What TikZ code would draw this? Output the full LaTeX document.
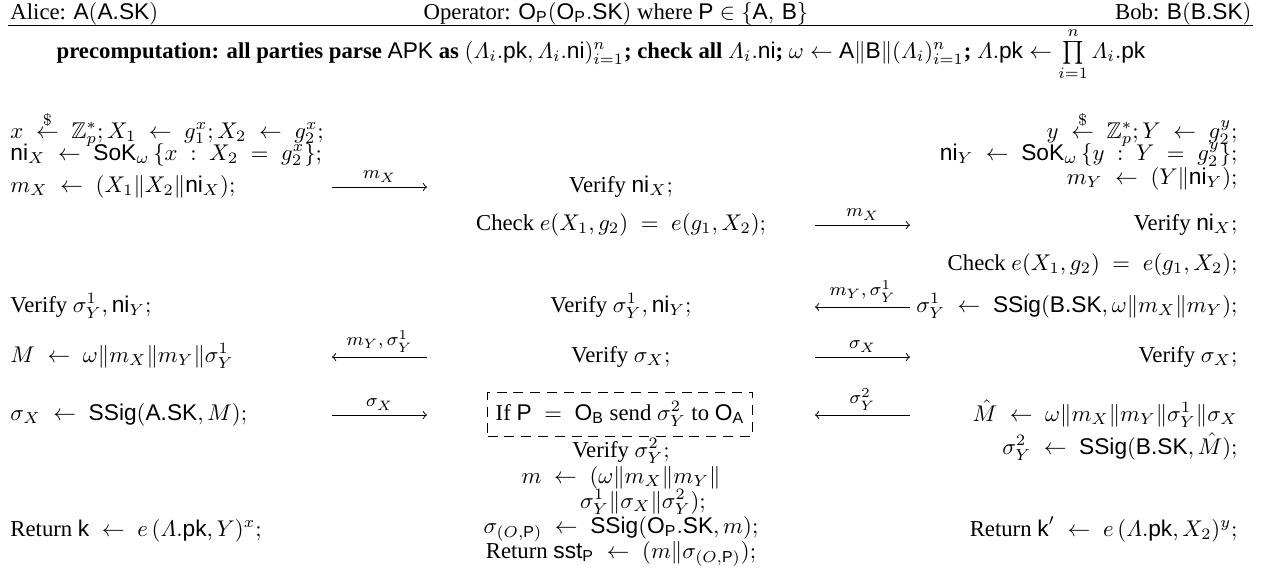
\documentclass[tikz,border=0pt]{standalone}
\usepackage{amsmath}
\usepackage{amssymb}
\usepackage[no-math]{fontspec}
\setmainfont{Liberation Serif}
\setsansfont{Liberation Sans}
\usetikzlibrary{positioning}
\newcommand{\sfm}[1]{\text{\normalfont\sffamily #1}}
\newcommand{\rnd}{\stackrel{\$}{\leftarrow}}
\newcommand{\vL}{\varLambda}
\thickmuskip=10mu plus 5mu
\medmuskip=5mu plus 2mu minus 4mu

\begin{document}
\begin{tikzpicture}[x=0.44pt, y=-0.44pt, >=to,
  lcol/.style={anchor=mid west, inner sep=0pt},
  mcol/.style={anchor=mid, inner sep=0pt},
  rcol/.style={anchor=mid east, inner sep=0pt},
  lbl/.style={above, font=\footnotesize, inner sep=2pt},
  tight/.style={execute at begin node={\thickmuskip=5mu plus 5mu}}]
  \useasboundingbox (0,0) rectangle (1261,575);

  \node[anchor=base west, inner sep=0pt] (alice) at (10,19) {Alice: $\sfm{A}(\sfm{A.SK})$};
  \node[anchor=base, inner sep=0pt, tight] (oper) at (616,19) {Operator: $\sfm{O}_{\sfm{P}}(\sfm{O}_{\sfm{P}}.\sfm{SK})$ where $\sfm{P} \in \{\sfm{A},\,\sfm{B}\}$};
  \node[anchor=base east, inner sep=0pt] (bob) at (1252,19) {Bob: $\sfm{B}(\sfm{B.SK})$};
  \coordinate (ruleL) at (8,25.5);
  \coordinate (ruleR) at (1253,25.5);
  \draw[line width=0.8pt] (ruleL) -- (ruleR);

  \node[mcol, tight] (pre) at (601,53) {\textbf{precomputation: all parties parse} $\sfm{APK}$ \textbf{as} $(\vL_i.\sfm{pk}, \vL_i.\sfm{ni})_{i=1}^{n}$\textbf{; check all} $\vL_i.\sfm{ni}$\textbf{;} $\omega \leftarrow \sfm{A}\|\sfm{B}\|(\vL_i)_{i=1}^{n}$\textbf{;} $\vL.\sfm{pk} \leftarrow \prod\limits_{i=1}^{n} \vL_i.\sfm{pk}$};

  \node[lcol] (a1) at (10,133) {$x \rnd \mathbb{Z}_p^{\ast}; X_1 \leftarrow g_1^x; X_2 \leftarrow g_2^x;$};
  \node[lcol] (a2) at (10,155) {$\sfm{ni}_X \leftarrow \sfm{SoK}_\omega\,\{x : X_2 = g_2^x\};$};
  \node[lcol] (a3) at (10,187) {$m_X \leftarrow (X_1\|X_2\|\sfm{ni}_X);$};
  \node[lcol] (a4) at (10,307) {Verify $\sigma_Y^1, \sfm{ni}_Y;$};
  \node[lcol] (a5) at (10,357) {$M \leftarrow \omega\|m_X\|m_Y\|\sigma_Y^1$};
  \node[lcol] (a6) at (10,415) {$\sigma_X \leftarrow \sfm{SSig}(\sfm{A.SK}, M);$};
  \node[lcol] (a7) at (10,531) {Return $\sfm{k} \leftarrow e\,(\vL.\sfm{pk}, Y)^x;$};

  \node[mcol] (o1) at (621,187) {Verify $\sfm{ni}_X;$};
  \node[mcol] (o2) at (621,225) {Check $e(X_1, g_2) = e(g_1, X_2);$};
  \node[mcol] (o3) at (621,307) {Verify $\sigma_Y^1, \sfm{ni}_Y;$};
  \node[mcol] (o4) at (621,357) {Verify $\sigma_X;$};
  \node[draw, dash pattern=on 4.4pt off 3pt, anchor=center, minimum width=116.6pt, minimum height=19.4pt, inner sep=0pt] (relay) at (620,414) {If $\sfm{P} = \sfm{O}_{\sfm{B}}$ send $\sigma_Y^2$ to $\sfm{O}_{\sfm{A}}$};
  \node[mcol] (o5) at (621,452) {Verify $\sigma_Y^2;$};
  \node[mcol] (o6) at (621,478) {$m \leftarrow (\omega\|m_X\|m_Y\|$};
  \node[mcol] (o7) at (643,503) {$\sigma_Y^1\|\sigma_X\|\sigma_Y^2);$};
  \node[mcol] (o8) at (621,528) {$\sigma_{(O,\sfm{P})} \leftarrow \sfm{SSig}(\sfm{O}_{\sfm{P}}.\sfm{SK}, m);$};
  \node[mcol] (o9) at (621,553) {Return $\sfm{sst}_{\sfm{P}} \leftarrow (m\|\sigma_{(O,\sfm{P})});$};

  \node[rcol] (b1) at (1238,133) {$y \rnd \mathbb{Z}_p^{\ast}; Y \leftarrow g_2^y;$};
  \node[rcol] (b2) at (1238,155) {$\sfm{ni}_Y \leftarrow \sfm{SoK}_\omega\,\{y : Y = g_2^y\};$};
  \node[rcol] (b3) at (1238,179) {$m_Y \leftarrow (Y\|\sfm{ni}_Y);$};
  \node[rcol] (b4) at (1238,225) {Verify $\sfm{ni}_X;$};
  \node[rcol] (b5) at (1238,265) {Check $e(X_1, g_2) = e(g_1, X_2);$};
  \node[rcol] (b6) at (1238,307) {$\sigma_Y^1 \leftarrow \sfm{SSig}(\sfm{B.SK}, \omega\|m_X\|m_Y);$};
  \node[rcol] (b7) at (1238,357) {Verify $\sigma_X;$};
  \node[rcol] (b8) at (1238,416) {$\hat{M} \leftarrow \omega\|m_X\|m_Y\|\sigma_Y^1\|\sigma_X$};
  \node[rcol] (b9) at (1238,449) {$\sigma_Y^2 \leftarrow \sfm{SSig}(\sfm{B.SK}, \hat{M});$};
  \node[rcol] (b10) at (1238,531) {Return $\sfm{k}' \leftarrow e\,(\vL.\sfm{pk}, X_2)^y;$};

  \coordinate (l1) at (332,187);  \coordinate (r1) at (427,187);
  \coordinate (l2) at (815,225);  \coordinate (r2) at (910,225);
  \coordinate (l3) at (815,307);  \coordinate (r3) at (910,307);
  \coordinate (l4) at (332,357);  \coordinate (r4) at (427,357);
  \coordinate (l5) at (815,357);  \coordinate (r5) at (910,357);
  \coordinate (l6) at (332,415);  \coordinate (r6) at (427,415);
  \coordinate (l7) at (815,415);  \coordinate (r7) at (910,415);

  \draw[->] (l1) -- node[lbl] {$m_X$} (r1);
  \draw[->] (l2) -- node[lbl] {$m_X$} (r2);
  \draw[<-] (l3) -- node[lbl] {$m_Y, \sigma_Y^1$} (r3);
  \draw[<-] (l4) -- node[lbl] {$m_Y, \sigma_Y^1$} (r4);
  \draw[->] (l5) -- node[lbl] {$\sigma_X$} (r5);
  \draw[->] (l6) -- node[lbl] {$\sigma_X$} (r6);
  \draw[<-] (l7) -- node[lbl] {$\sigma_Y^2$} (r7);
\end{tikzpicture}
\end{document}
